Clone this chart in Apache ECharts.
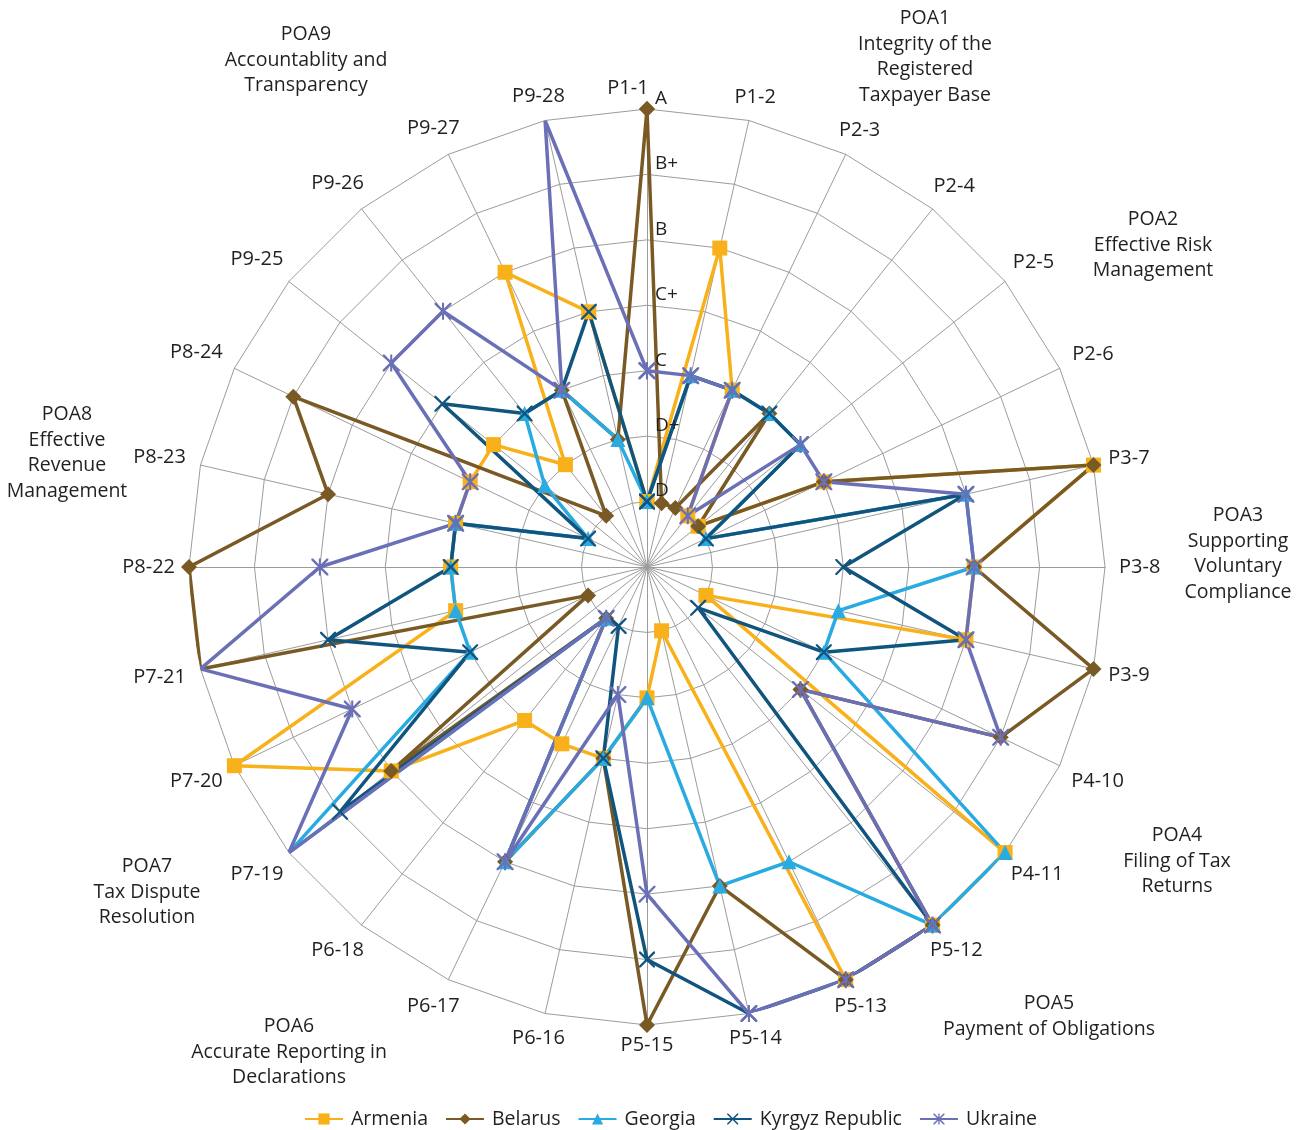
<!DOCTYPE html>
<html><head><meta charset="utf-8">
<script src="https://cdn.jsdelivr.net/npm/echarts@6/dist/echarts.min.js"></script>
<style>html,body{margin:0;padding:0;background:#fff}#c{width:1302px;height:1130px}</style>
</head><body><div id="c"></div>
<script>
const categories = ['P1-1','P1-2','P2-3','P2-4','P2-5','P2-6','P3-7','P3-8','P3-9','P4-10','P4-11','P5-12','P5-13','P5-14','P5-15','P6-16','P6-17','P6-18','P7-19','P7-20','P7-21','P8-22','P8-23','P8-24','P9-25','P9-26','P9-27','P9-28'];
const gradeLabels = ['', 'D', 'D+', 'C', 'C+', 'B', 'B+', 'A'];
const seriesNames = ['Armenia', 'Belarus', 'Georgia', 'Kyrgyz Republic', 'Ukraine'];
// scores: 1 = D ... 7 = A ; null = not rated
const armenia = [1,5,3,1,1,3,7,5,5,1,7,7,7,1,2,3,3,3,5,7,3,3,3,3,3,2,5,4];
const belarus = [7,1,1,3,1,3,7,5,7,6,3,7,7,5,7,3,5,1,5,1,7,7,5,6,null,1,3,2];
const georgia = [1,3,3,3,3,1,5,5,3,3,7,7,5,5,2,3,5,1,7,3,3,3,3,1,2,3,3,2];
const kyrgyz  = [1,3,3,3,3,1,5,3,5,3,1,7,7,7,6,3,1,1,6,3,5,3,3,1,4,3,3,4];
const ukraine = [3,3,3,1,3,3,5,5,5,6,3,7,7,7,5,2,5,1,7,5,7,5,3,3,5,5,3,7];
const poaTitles = [
  'POA1\nIntegrity of the\nRegistered\nTaxpayer Base',
  'POA2\nEffective Risk\nManagement',
  'POA3\nSupporting\nVoluntary\nCompliance',
  'POA4\nFiling of Tax\nReturns',
  'POA5\nPayment of Obligations',
  'POA6\nAccurate Reporting in\nDeclarations',
  'POA7\nTax Dispute\nResolution',
  'POA8\nEffective\nRevenue\nManagement',
  'POA9\nAccountablity and\nTransparency'
];
const poaPos = [[925,6],[1153,207],[1238,503],[1177,823],[1049,991],[289,1014],[147,854],[67,402],[306,22]];

const FONT = 'Open Sans';
const TXT = '#231F20';
const CX = 647, CY = 567, R = 458;
const colors = ['#F8B11A', '#7A5A24', '#29ABE2', '#11557E', '#6B70B6'];
const X_PATH = 'path://M0,0L1,0L5,4L9,0L10,0L10,1L6,5L10,9L10,10L9,10L5,6L1,10L0,10L0,9L4,5L0,1Z';
const STAR_PATH = 'path://M0,0L1,0L5,4L9,0L10,0L10,1L6,5L10,9L10,10L9,10L5,6L1,10L0,10L0,9L4,5L0,1Z M4.4,0L5.6,0L5.6,10L4.4,10Z';
const symbols = ['rect', 'diamond', 'triangle', X_PATH, STAR_PATH];
const symbolSizes = [15, 16, 15, 16, 17];
const allData = [armenia, belarus, georgia, kyrgyz, ukraine];

function toPolar(vals) {
  const pts = [];
  vals.forEach((v, i) => { if (v != null) pts.push([v, i]); });
  const first = vals.findIndex(v => v != null);
  pts.push([vals[first], categories.length]);
  return pts;
}

// radar indicators run counter-clockwise; reorder so that they read clockwise
const order = [0];
for (let i = categories.length - 1; i >= 1; i--) order.push(i);

// category label placement (text box just outside the outer ring)
const LABEL_SIZE = 20;
const mctx = document.createElement('canvas').getContext('2d');
mctx.font = LABEL_SIZE + 'px "' + FONT + '"';
const labelItems = categories.map((c, i) => {
  const th = i * 2 * Math.PI / categories.length;
  const w = mctx.measureText(c).width, h = 20;
  const d = 14 + Math.abs(Math.sin(th)) * w / 2 + Math.abs(Math.cos(th)) * h / 2;
  let ox = Math.sin(th) * d, oy = -Math.cos(th) * d * 0.85;
  if (i === 0) ox -= 19;
  return {value: [7, i], label: {offset: [ox, oy]}};
});

const chart = echarts.init(document.getElementById('c'), null, {renderer: 'canvas'});
chart.setOption({
  animation: false,
  backgroundColor: '#ffffff',
  radar: {
    center: [CX, CY], radius: R, startAngle: 90, splitNumber: 7, shape: 'polygon',
    indicator: order.map(i => ({name: categories[i], min: 0, max: 7})),
    axisName: {show: false},
    axisLine: {lineStyle: {color: '#9c9c9c', width: 1}},
    splitLine: {lineStyle: {color: '#9c9c9c', width: 1}},
    splitArea: {show: false},
    axisTick: {show: false},
    axisLabel: {show: false}
  },
  polar: {center: [CX, CY], radius: R},
  angleAxis: {
    type: 'value', min: 0, max: categories.length, startAngle: 90, clockwise: true,
    axisLine: {show: false}, axisTick: {show: false}, axisLabel: {show: false}, splitLine: {show: false}
  },
  radiusAxis: {
    type: 'value', min: 0, max: 7, interval: 1, z: 10,
    axisLine: {show: false}, axisTick: {show: false}, splitLine: {show: false},
    axisLabel: {
      show: true, margin: -8, align: 'left', verticalAlign: 'bottom',
      fontSize: 19, fontFamily: FONT, color: TXT, padding: [0, 0, 1, 0],
      formatter: v => gradeLabels[v] || ''
    }
  },
  legend: {
    top: 1104, left: 299, itemWidth: 38, itemHeight: 14, itemGap: 17,
    textStyle: {fontSize: 19.5, color: TXT, fontFamily: FONT, padding: [0, 0, 0, 3]},
    data: seriesNames
  },
  graphic: poaTitles.map((t, i) => ({
    type: 'text', x: poaPos[i][0], y: poaPos[i][1], silent: true,
    style: {text: t, align: 'center', verticalAlign: 'top', fontSize: 19.5, fontFamily: FONT, fill: TXT, lineHeight: 25.5}
  })),
  series: [{
    type: 'scatter', coordinateSystem: 'polar', silent: true, clip: false,
    symbolSize: 1, itemStyle: {color: 'rgba(0,0,0,0)', opacity: 1},
    data: labelItems,
    label: {show: true, position: 'inside', formatter: p => categories[p.dataIndex],
            fontSize: LABEL_SIZE, fontFamily: FONT, color: TXT, opacity: 1}
  }].concat(seriesNames.map((name, k) => ({
    name, type: 'line', coordinateSystem: 'polar',
    data: toPolar(allData[k]),
    color: colors[k],
    symbol: symbols[k], symbolSize: symbolSizes[k], showSymbol: true,
    lineStyle: {width: 3.5, color: colors[k]},
    itemStyle: {color: colors[k]},
    smooth: false
  })))
});
</script></body></html>
